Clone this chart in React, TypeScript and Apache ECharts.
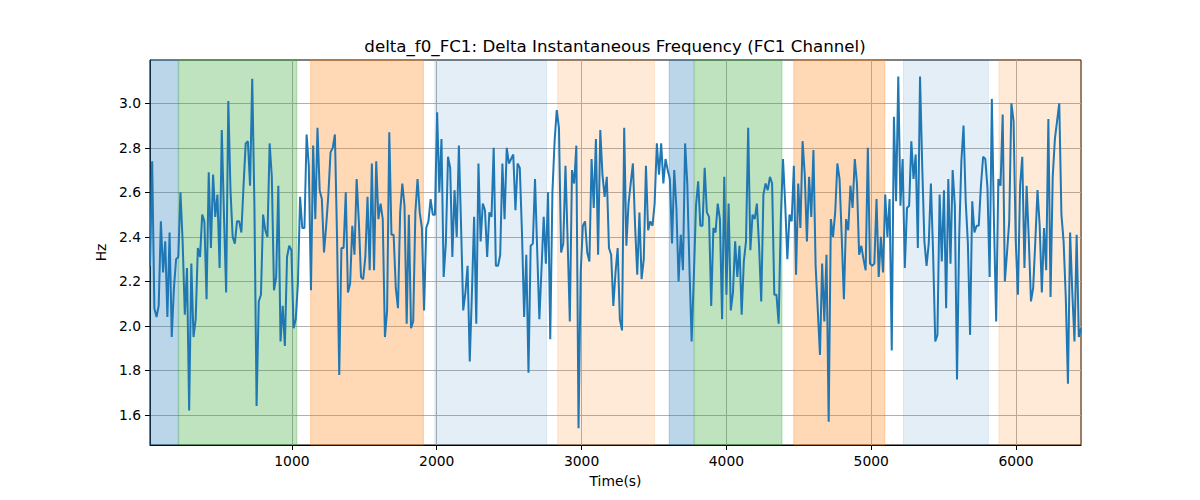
import React, { useEffect, useRef } from "react";
import * as echarts from "echarts";

const T0 = 20;
const DT = 15.02;

const values: number[] = [
  2.27, 2.74, 2.08, 2.04, 2.09, 2.47, 2.24, 2.38, 2.04, 2.42,
  1.95, 2.17, 2.30, 2.31, 2.60, 2.38, 2.05, 2.26, 1.62, 2.28,
  1.95, 2.03, 2.35, 2.31, 2.50, 2.47, 2.12, 2.69, 2.35, 2.68,
  2.49, 2.59, 2.26, 2.88, 2.50, 2.15, 3.01, 2.61, 2.40, 2.37,
  2.47, 2.47, 2.42, 2.63, 2.82, 2.83, 2.63, 3.11, 2.54, 1.64,
  2.11, 2.14, 2.50, 2.43, 2.40, 2.82, 2.67, 2.16, 2.22, 2.63,
  1.93, 2.09, 1.91, 2.31, 2.36, 2.34, 1.99, 2.03, 2.19, 2.58,
  2.44, 2.44, 2.86, 2.72, 2.16, 2.81, 2.48, 2.89, 2.61, 2.57,
  2.33, 2.45, 2.59, 2.78, 2.80, 2.86, 2.39, 1.78, 2.35, 2.35,
  2.60, 2.15, 2.19, 2.45, 2.32, 2.66, 2.47, 2.22, 2.21, 2.31,
  2.58, 2.25, 2.73, 2.25, 2.74, 2.48,
  2.55, 2.48, 1.95, 2.07, 2.87, 2.41, 2.41, 2.17, 2.08, 2.51,
  2.64, 2.54, 2.01, 2.50, 1.99, 2.02, 2.51, 2.66, 2.51, 2.44,
  2.07, 2.44, 2.47, 2.57, 2.50, 2.50, 2.96, 2.60, 2.84, 2.22,
  2.37, 2.76, 2.71, 2.31, 2.61, 2.40, 2.81, 2.45, 2.07, 2.15,
  2.27, 1.84, 2.15, 2.49, 2.01, 2.73, 2.38, 2.55, 2.52, 2.31,
  2.51, 2.49, 2.80, 2.27, 2.27, 2.32, 2.73, 2.48, 2.80, 2.73,
  2.75, 2.77, 2.52, 2.73, 2.71, 2.42, 2.04, 2.32, 1.79, 2.36,
  2.37, 2.66, 2.34, 2.03, 2.26, 2.49, 2.28, 2.60, 1.94, 2.60,
  2.83, 2.97, 2.89, 2.33, 2.37, 2.72, 2.38, 2.02, 2.70, 2.64,
  2.81, 1.54, 2.24, 2.45, 2.47, 2.33, 2.29, 2.75, 2.53, 2.84,
  2.32, 2.88, 2.68, 2.58, 2.67, 2.35,
  2.32, 2.09, 2.24, 2.35, 2.03, 1.98, 2.89, 2.36, 2.55, 2.64,
  2.73, 2.45, 2.23, 2.51, 2.21, 2.30, 2.72, 2.43, 2.47, 2.45,
  2.55, 2.82, 2.68, 2.82, 2.64, 2.75, 2.70, 2.66, 2.37, 2.70,
  2.53, 2.20, 2.41, 2.25, 2.82, 2.64, 2.26, 1.93, 2.22, 2.54,
  2.65, 2.45, 2.45, 2.71, 2.51, 2.49, 2.09, 2.44, 2.42, 2.55,
  2.48, 2.03, 2.67, 2.14, 2.55, 2.07, 2.15, 2.38, 2.22, 2.36,
  2.05, 2.29, 2.38, 2.89, 2.34, 2.50, 2.48, 2.55, 2.36, 2.11,
  2.59, 2.64, 2.61, 2.67, 2.64, 2.14, 2.14, 2.01, 2.48, 2.75,
  2.55, 2.30, 2.50, 2.47, 2.72, 2.23, 2.64, 2.44, 2.83, 2.68,
  2.38, 2.67, 2.49, 2.79, 2.27, 2.07, 1.87, 2.28, 2.02, 2.32,
  1.57, 2.48, 2.40, 2.51, 2.73, 2.66,
  2.40, 2.12, 2.48, 2.43, 2.63, 2.53, 2.75, 2.64, 2.32, 2.36,
  2.30, 2.25, 2.80, 2.28, 2.27, 2.28, 2.57, 2.22, 2.40, 2.24,
  2.59, 2.40, 2.57, 1.89, 2.94, 2.56, 3.12, 2.54, 2.75, 2.26,
  2.53, 2.54, 2.83, 2.66, 2.77, 2.35, 3.12, 2.72, 2.38, 2.27,
  2.37, 2.64, 2.33, 1.93, 1.96, 2.59, 2.29, 2.61, 2.08, 2.66,
  2.28, 2.70, 2.54, 1.76, 2.40, 2.74, 2.90, 2.56, 2.37, 1.96,
  2.56, 2.42, 2.45, 2.45, 2.63, 2.76, 2.75, 2.62, 2.22, 3.02,
  2.46, 2.02, 2.66, 2.63, 2.95, 2.20, 2.33, 2.47, 3.00, 2.92,
  2.38, 2.14, 2.63, 2.76, 2.26, 2.63, 2.39, 2.11, 2.17, 2.38,
  2.61, 2.45, 2.15, 2.44, 2.25, 2.93, 2.13, 2.67, 2.84, 2.92,
  3.00, 2.50, 2.38, 2.13, 1.74, 2.42, 2.15, 1.93, 2.41, 1.95,
  1.99,
];

const times: number[] = values.map((_, i) => T0 + i * DT);
const T_MAX = times[times.length - 1];

const spanStarts = [T0, 218, 1129, 1987, 2835, 3605, 3780, 4465, 5223, 5882];
const spanEnds = [215, 1034, 1908, 2759, 3503, 3775, 4384, 5094, 5809, T_MAX];
const spanColors = [
  "rgba(31,119,180,0.3)",
  "rgba(44,160,44,0.3)",
  "rgba(255,127,14,0.3)",
  "rgba(31,119,180,0.12)",
  "rgba(255,127,14,0.16)",
  "rgba(31,119,180,0.3)",
  "rgba(44,160,44,0.3)",
  "rgba(255,127,14,0.3)",
  "rgba(31,119,180,0.12)",
  "rgba(255,127,14,0.16)",
];

const xTicks = [1000, 2000, 3000, 4000, 5000, 6000];
const yTicks = [1.6, 1.8, 2.0, 2.2, 2.4, 2.6, 2.8, 3.0];
const Y_MIN = 1.4652;
const Y_MAX = 3.1947;

const TITLE = "delta_f0_FC1: Delta Instantaneous Frequency (FC1 Channel)";
const FONT = "DejaVu Sans";

export default function App() {
  const ref = useRef<HTMLDivElement>(null);
  useEffect(() => {
    if (!ref.current) return;
    const chart = echarts.init(ref.current, undefined, { renderer: "svg" });
    const areas = spanStarts.map((s, i) => [
      {
        xAxis: s,
        itemStyle: { color: spanColors[i], borderColor: spanColors[i], borderWidth: 1 },
      },
      { xAxis: spanEnds[i] },
    ]);
    chart.setOption({
      animation: false,
      backgroundColor: "#ffffff",
      textStyle: { fontFamily: FONT },
      grid: {
        left: 150,
        right: 119,
        top: 60,
        bottom: 55,
        show: true,
        borderColor: "#000000",
        borderWidth: 1,
        backgroundColor: "transparent",
        containLabel: false,
      },
      graphic: [
        {
          type: "text",
          x: 615,
          y: 46,
          style: {
            text: TITLE,
            fontFamily: FONT,
            fontSize: 16.67,
            fill: "#000",
            textAlign: "center",
            textVerticalAlign: "middle",
          },
        },
      ],
      xAxis: {
        type: "value",
        min: T0,
        max: T_MAX,
        splitNumber: 6,
        name: "Time(s)",
        nameLocation: "middle",
        nameGap: 29,
        nameTextStyle: { fontFamily: FONT, fontSize: 13.89, color: "#000" },
        axisLine: { show: true, onZero: false, lineStyle: { color: "#000", width: 1 } },
        axisTick: {
          show: true,
          inside: false,
          length: 5,
          customValues: xTicks,
          lineStyle: { color: "#000", width: 1 },
        },
        axisLabel: {
          show: true,
          margin: 9,
          customValues: xTicks,
          fontFamily: FONT,
          fontSize: 13.89,
          color: "#000",
          formatter: (v: number) => String(Math.round(v)),
        },
        splitLine: { show: true, lineStyle: { color: "#b0b0b0", width: 1 } },
      },
      yAxis: {
        type: "value",
        min: Y_MIN,
        max: Y_MAX,
        splitNumber: 8,
        name: "Hz",
        nameLocation: "middle",
        nameGap: 37,
        nameRotate: 90,
        nameTextStyle: { fontFamily: FONT, fontSize: 13.89, color: "#000" },
        axisLine: { show: true, onZero: false, lineStyle: { color: "#000", width: 1 } },
        axisTick: {
          show: true,
          inside: false,
          length: 5,
          customValues: yTicks,
          lineStyle: { color: "#000", width: 1 },
        },
        axisLabel: {
          show: true,
          margin: 9,
          customValues: yTicks,
          fontFamily: FONT,
          fontSize: 13.89,
          color: "#000",
          formatter: (v: number) => v.toFixed(1),
        },
        splitLine: { show: true, lineStyle: { color: "#b0b0b0", width: 1 } },
      },
      series: [
        {
          type: "line",
          name: "spans",
          data: [],
          z: 1,
          silent: true,
          markArea: { silent: true, data: areas },
        },
        {
          type: "line",
          name: "delta_f0_FC1",
          z: 3,
          data: times.map((t, i) => [t, values[i]]),
          showSymbol: false,
          symbol: "none",
          lineStyle: { color: "#1f77b4", width: 2 },
          itemStyle: { color: "#1f77b4" },
        },
      ],
    });
    return () => chart.dispose();
  }, []);
  return (
    <div
      ref={ref}
      style={{ position: "absolute", left: 0, top: 0, width: 1200, height: 500 }}
    />
  );
}
